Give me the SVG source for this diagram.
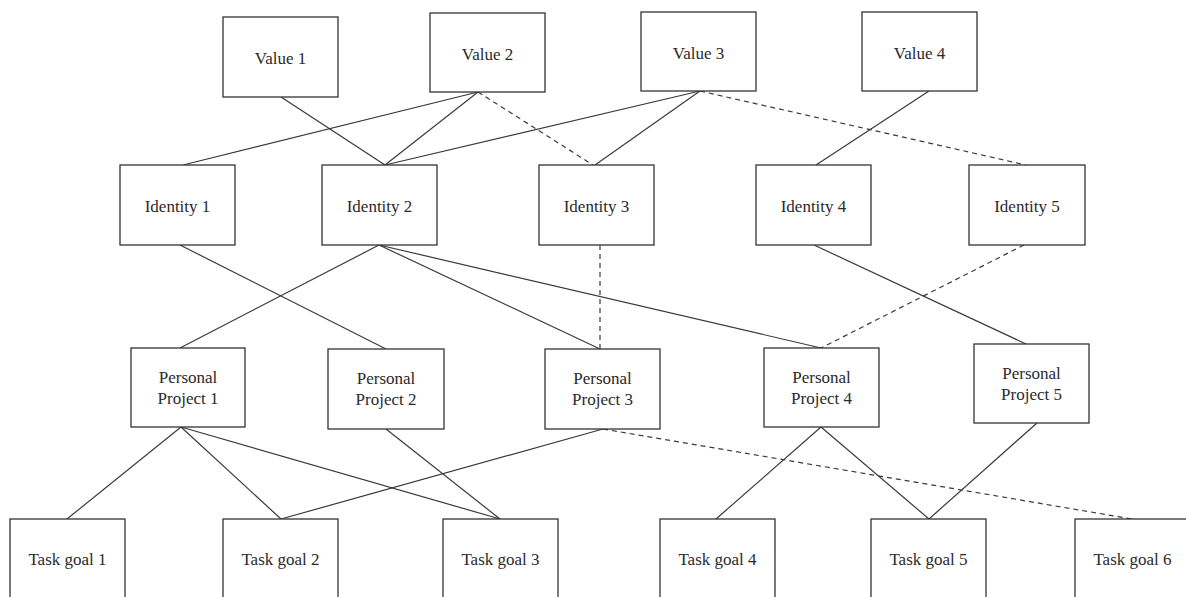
<svg xmlns="http://www.w3.org/2000/svg" width="1186" height="597" viewBox="0 0 1186 597">
<style>
.box{fill:#fff;stroke:#333;stroke-width:1.3}
.t{font-family:"Liberation Serif","Times New Roman",serif;font-size:17px;fill:#2a2a2a;text-anchor:middle}
.c line{stroke:#3a3a3a;stroke-width:1.2}
.c .d{stroke-dasharray:5,4}
</style>
<rect width="1186" height="597" fill="#fff"/>
<g class="c" id="connectors">
<line x1="281" y1="97" x2="385" y2="165"/>
<line x1="478" y1="92" x2="183" y2="165"/>
<line x1="478" y1="92" x2="385" y2="165"/>
<line x1="700" y1="91" x2="385" y2="165"/>
<line x1="700" y1="91" x2="595" y2="165"/>
<line x1="929" y1="91" x2="816" y2="165"/>
<line x1="180" y1="245" x2="386" y2="349"/>
<line x1="379" y1="245" x2="180" y2="348"/>
<line x1="379" y1="245" x2="600" y2="349"/>
<line x1="379" y1="245" x2="821" y2="348"/>
<line x1="814" y1="245" x2="1026" y2="344"/>
<line x1="181" y1="427" x2="67" y2="519"/>
<line x1="181" y1="427" x2="281" y2="519"/>
<line x1="181" y1="427" x2="500" y2="519"/>
<line x1="386" y1="429" x2="500" y2="519"/>
<line x1="603" y1="429" x2="281" y2="519"/>
<line x1="821" y1="427" x2="716" y2="519"/>
<line x1="821" y1="427" x2="929" y2="519"/>
<line x1="1037" y1="423" x2="929" y2="519"/>
<line class="d" x1="478" y1="92" x2="593" y2="165"/>
<line class="d" x1="700" y1="91" x2="1026" y2="165"/>
<line class="d" x1="600" y1="245" x2="600" y2="349"/>
<line class="d" x1="1024" y1="245" x2="821" y2="348"/>
<line class="d" x1="603" y1="429" x2="1132" y2="519"/>
</g>
<g id="value1"><rect class="box" x="223" y="17" width="115" height="80"/><text class="t" x="280.5" y="64">Value 1</text></g>
<g id="value2"><rect class="box" x="430" y="13" width="115" height="79"/><text class="t" x="487.5" y="60">Value 2</text></g>
<g id="value3"><rect class="box" x="641" y="12" width="115" height="79"/><text class="t" x="698.5" y="59">Value 3</text></g>
<g id="value4"><rect class="box" x="862" y="12" width="115" height="79"/><text class="t" x="919.5" y="59">Value 4</text></g>
<g id="identity1"><rect class="box" x="120" y="165" width="115" height="80"/><text class="t" x="177.5" y="212">Identity 1</text></g>
<g id="identity2"><rect class="box" x="322" y="165" width="115" height="80"/><text class="t" x="379.5" y="212">Identity 2</text></g>
<g id="identity3"><rect class="box" x="539" y="165" width="115" height="80"/><text class="t" x="596.5" y="212">Identity 3</text></g>
<g id="identity4"><rect class="box" x="756" y="165" width="115" height="80"/><text class="t" x="813.5" y="212">Identity 4</text></g>
<g id="identity5"><rect class="box" x="969" y="165" width="116" height="80"/><text class="t" x="1027" y="212">Identity 5</text></g>
<g id="pp1"><rect class="box" x="131" y="348" width="114" height="79"/><text class="t" x="188" y="383">Personal</text><text class="t" x="188" y="404">Project 1</text></g>
<g id="pp2"><rect class="box" x="328" y="349" width="116" height="80"/><text class="t" x="386" y="384">Personal</text><text class="t" x="386" y="405">Project 2</text></g>
<g id="pp3"><rect class="box" x="545" y="349" width="115" height="80"/><text class="t" x="602.5" y="384">Personal</text><text class="t" x="602.5" y="405">Project 3</text></g>
<g id="pp4"><rect class="box" x="764" y="348" width="115" height="79"/><text class="t" x="821.5" y="383">Personal</text><text class="t" x="821.5" y="404">Project 4</text></g>
<g id="pp5"><rect class="box" x="974" y="344" width="115" height="79"/><text class="t" x="1031.5" y="379">Personal</text><text class="t" x="1031.5" y="400">Project 5</text></g>
<g id="tg1"><rect class="box" x="10" y="519" width="115" height="90"/><text class="t" x="67.5" y="565">Task goal 1</text></g>
<g id="tg2"><rect class="box" x="223" y="519" width="115" height="90"/><text class="t" x="280.5" y="565">Task goal 2</text></g>
<g id="tg3"><rect class="box" x="443" y="519" width="115" height="90"/><text class="t" x="500.5" y="565">Task goal 3</text></g>
<g id="tg4"><rect class="box" x="660" y="519" width="115" height="90"/><text class="t" x="717.5" y="565">Task goal 4</text></g>
<g id="tg5"><rect class="box" x="871" y="519" width="115" height="90"/><text class="t" x="928.5" y="565">Task goal 5</text></g>
<g id="tg6"><rect class="box" x="1075" y="519" width="115" height="90"/><text class="t" x="1132.5" y="565">Task goal 6</text></g>
</svg>
